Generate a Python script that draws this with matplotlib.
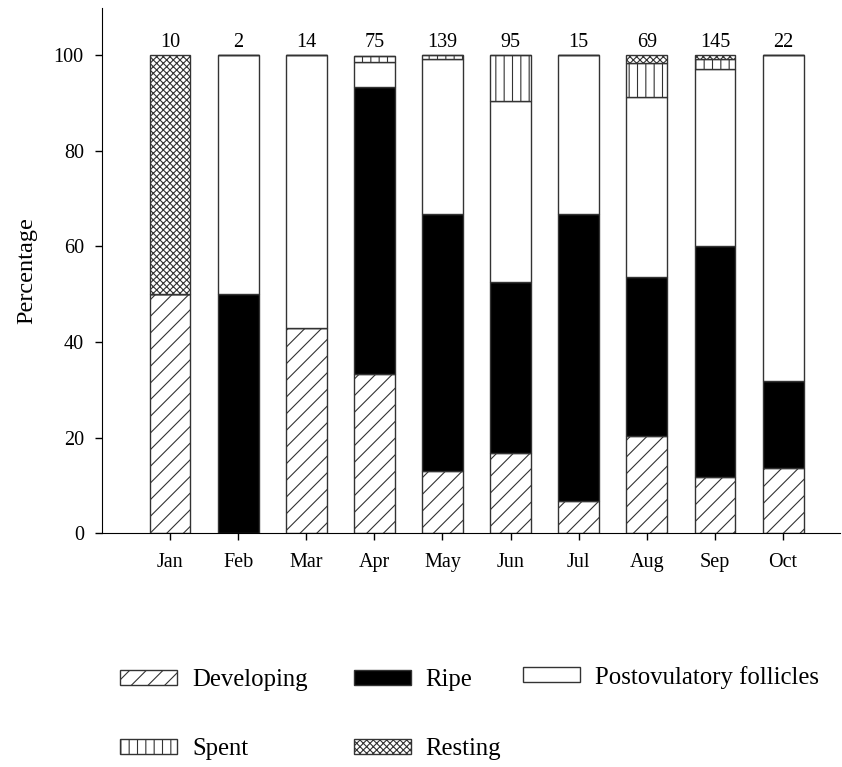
import numpy as np
import matplotlib
matplotlib.use('Agg')
import matplotlib.pyplot as plt

plt.rcParams['font.family'] = ['Liberation Serif', 'DejaVu Serif']
plt.rcParams['hatch.linewidth'] = 0.8

# Monthly gonad stage composition (%)
months = ['Jan', 'Feb', 'Mar', 'Apr', 'May', 'Jun', 'Jul', 'Aug', 'Sep', 'Oct']
sample_n = [10, 2, 14, 75, 139, 95, 15, 69, 145, 22]

developing = [50.0, 0.0, 42.9, 33.3, 12.9, 16.8, 6.7, 20.3, 11.7, 13.6]
ripe = [0.0, 50.0, 0.0, 60.0, 54.0, 35.8, 60.0, 33.3, 48.3, 18.2]
postovulatory = [0.0, 50.0, 57.1, 5.3, 32.4, 37.9, 33.3, 37.7, 37.2, 68.2]
spent = [0.0, 0.0, 0.0, 1.3, 0.7, 9.5, 0.0, 7.2, 2.1, 0.0]
resting = [50.0, 0.0, 0.0, 0.0, 0.0, 0.0, 0.0, 1.5, 0.7, 0.0]

stages = [
    ('Developing', developing, 'white', '//'),
    ('Ripe', ripe, 'black', ''),
    ('Postovulatory follicles', postovulatory, 'white', ''),
    ('Spent', spent, 'white', '||'),
    ('Resting', resting, 'white', 'xxxxx'),
]

fig = plt.figure(figsize=(8.42, 7.67), dpi=100)
ax = fig.add_axes([0.121, 0.305, 0.877, 0.685])

x = np.arange(len(months))
bottom = np.zeros(len(months))
handles = {}
for label, vals, color, hatch in stages:
    vals = np.array(vals)
    bars = ax.bar(x, vals, width=0.6, bottom=bottom, color=color,
                  edgecolor='#333333', linewidth=1.0, hatch=hatch, label=label)
    handles[label] = bars
    bottom += vals

# sample sizes above each bar
for xi, n in zip(x, sample_n):
    ax.text(xi, 100.8, str(n), ha='center', va='bottom', fontsize=14.5)

ax.set_xlim(-1.0, 9.84)
ax.set_ylim(0, 110)
ax.set_yticks([0, 20, 40, 60, 80, 100])
ax.set_xticks(x)
ax.set_xticklabels(months)
ax.tick_params(axis='both', direction='out', length=5, width=1, labelsize=14.5)
ax.tick_params(axis='y', pad=8)
ax.tick_params(axis='x', pad=9)
ax.set_ylabel('Percentage', fontsize=17.5)
ax.yaxis.set_label_coords(-0.088, 0.5)

ax.spines['top'].set_visible(False)
ax.spines['right'].set_visible(False)

# legend laid out as three separate columns
leg_kw = dict(frameon=False, fontsize=17.8, handlelength=2.3, handleheight=0.58,
              handletextpad=0.6, labelspacing=1.9, borderpad=0, borderaxespad=0,
              loc='center left')
columns = [
    (['Developing', 'Spent'], 0.143, 0.0684),
    (['Ripe', 'Resting'], 0.420, 0.0684),
    (['Postovulatory follicles'], 0.621, 0.1173),
]
for names, lx, ly in columns:
    fig.legend(handles=[handles[nm] for nm in names], labels=names,
               bbox_to_anchor=(lx, ly), **leg_kw)

plt.savefig('out.png', dpi=100)
